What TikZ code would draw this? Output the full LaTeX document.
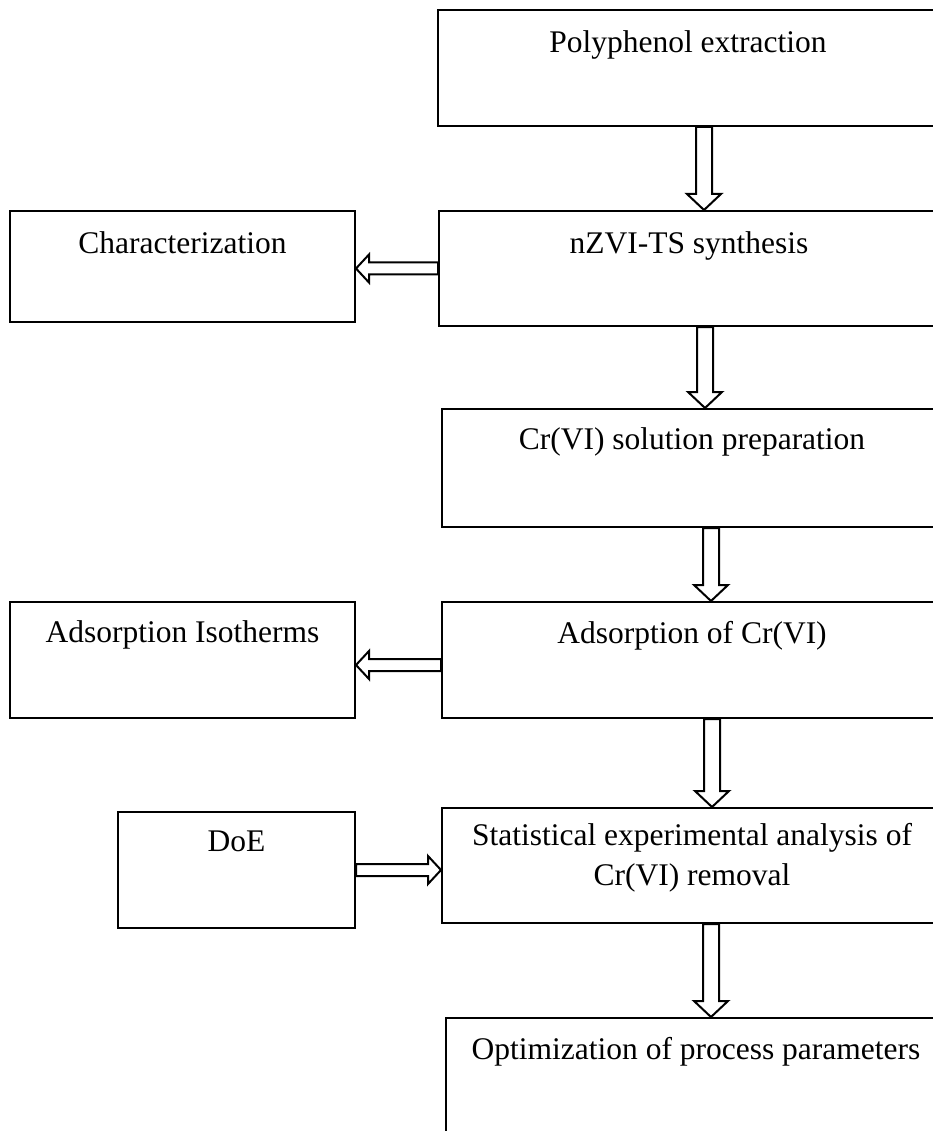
\documentclass[tikz,border=0pt]{standalone}
\usepackage{fontspec}
\setmainfont{Liberation Serif}
\usetikzlibrary{positioning,calc}

% hollow block arrows, from #1 to #2
\newcommand{\downflow}[2]{%
  \draw[flow] let \p1=(#1), \p2=(#2) in
    (\x1-8pt,\y1) -- (\x1-8pt,\y2+16pt) -- (\x1-17pt,\y2+16pt) -- (\x2,\y2)
    -- (\x1+17pt,\y2+16pt) -- (\x1+8pt,\y2+16pt) -- (\x1+8pt,\y1) -- cycle;}
\newcommand{\sideflow}[2]{%
  \draw[flow] let \p1=(#1), \p2=(#2), \p3=($(#2)!13pt!(#1)$) in
    (\x1,\y1-6pt) -- (\x3,\y1-6pt) -- (\x3,\y1-14pt) -- (\x2,\y2)
    -- (\x3,\y1+14pt) -- (\x3,\y1+6pt) -- (\x1,\y1+6pt) -- cycle;}

\begin{document}
\begin{tikzpicture}[
    x=1pt, y=-1pt,
    box/.style={rectangle, draw=black, line width=2pt, fill=white,
        anchor=north west, inner sep=0pt},
    lbl/.style={inner sep=0pt, anchor=north, align=center, text=black,
        font=\fontsize{31.5}{40}\selectfont},
    flow/.style={draw=black, fill=white, line width=2pt, line join=miter}
]
\useasboundingbox (0,0) rectangle (933,1131);
\clip (0,0) rectangle (933,1131);

% main column
\node (poly) [box, minimum width=500pt, minimum height=116pt] at (437,9) {};
\node (nzvi) [box, minimum width=500pt, minimum height=115pt] at (438,210) {};
\node (crsol) [box, minimum width=500pt, minimum height=118pt] at (441,408) {};
\node (adsorb) [box, minimum width=500pt, minimum height=116pt] at (441,601) {};
\node (stat) [box, minimum width=500pt, minimum height=115pt] at (441,807) {};
\node (optim) [box, minimum width=500pt, minimum height=200pt] at (445,1017) {};

% side boxes
\node (charact) [box, minimum width=345pt, minimum height=111pt] at (9,210) {};
\node (iso) [box, minimum width=345pt, minimum height=116pt] at (9,601) {};
\node (doe) [box, minimum width=237pt, minimum height=116pt] at (117,811) {};

% texts
\node [lbl, below=21pt of poly.north] {Polyphenol extraction};
\node [lbl, below=21pt of nzvi.north] {nZVI-TS synthesis};
\node [lbl, below=19pt of crsol.north] {Cr(VI) solution preparation};
\node [lbl, below=20pt of adsorb.north] {Adsorption of Cr(VI)};
\node [lbl, below=16pt of stat.north] {Statistical experimental analysis of\\Cr(VI) removal};
\node [lbl, below=20pt of optim.north] {Optimization of process parameters};
\node [lbl, below=21pt of charact.north] {Characterization};
\node [lbl, below=19pt of iso.north] {Adsorption Isotherms};
\node [lbl, below=20pt of doe.north] {DoE};

% arrows down the main column
\coordinate (a1) at ([xshift=16pt]poly.south);
\coordinate (a2) at ([xshift=16pt]nzvi.south);
\coordinate (a3) at ([xshift=19pt]crsol.south);
\coordinate (a4) at ([xshift=20pt]adsorb.south);
\coordinate (a5) at ([xshift=19pt]stat.south);
\downflow{a1}{a1 |- nzvi.north}
\downflow{a2}{a2 |- crsol.north}
\downflow{a3}{a3 |- adsorb.north}
\downflow{a4}{a4 |- stat.north}
\downflow{a5}{a5 |- optim.north}

% side arrows
\coordinate (s1) at (nzvi.west);
\coordinate (e1) at (charact.east |- s1);
\coordinate (s2) at ([yshift=-5pt]adsorb.west);
\coordinate (e2) at (iso.east |- s2);
\coordinate (s3) at (doe.east);
\coordinate (e3) at (stat.west |- s3);
\sideflow{s1}{e1}
\sideflow{s2}{e2}
\sideflow{s3}{e3}

\end{tikzpicture}
\end{document}
